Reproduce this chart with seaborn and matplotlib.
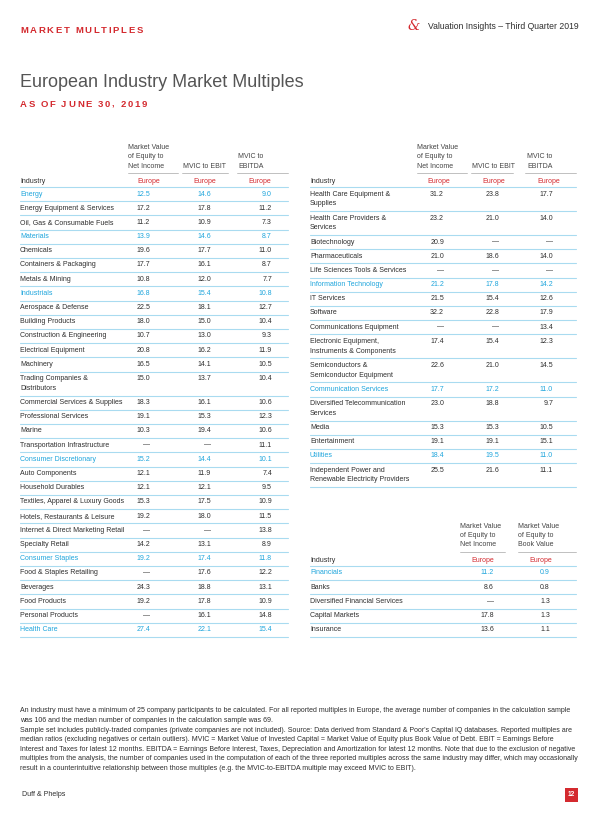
import matplotlib
matplotlib.use("Agg")
import matplotlib.pyplot as plt
import seaborn as sns

sns.set_theme(style="white")
plt.rcParams['font.family'] = ['Liberation Sans', 'DejaVu Sans']

# ---------------- data ----------------
left_industries = [
    "Energy", "Energy Equipment & Services", "Oil, Gas & Consumable Fuels",
    "Materials", "Chemicals", "Containers & Packaging", "Metals & Mining",
    "Industrials", "Aerospace & Defense", "Building Products",
    "Construction & Engineering", "Electrical Equipment", "Machinery",
    "Trading Companies &\nDistributors", "Commercial Services & Supplies",
    "Professional Services", "Marine", "Transportation Infrastructure",
    "Consumer Discretionary", "Auto Components", "Household Durables",
    "Textiles, Apparel & Luxury Goods", "Hotels, Restaurants & Leisure",
    "Internet & Direct Marketing Retail", "Specialty Retail",
    "Consumer Staples", "Food & Staples Retailing", "Beverages",
    "Food Products", "Personal Products", "Health Care",
]
left_ni = [12.5, 17.2, 11.2, 13.9, 19.6, 17.7, 10.8, 16.8, 22.5, 18.0, 10.7, 20.8,
           16.5, 15.0, 18.3, 19.1, 10.3, None, 15.2, 12.1, 12.1, 15.3, 19.2, None,
           14.2, 19.2, None, 24.3, 19.2, None, 27.4]
left_ebit = [14.6, 17.8, 10.9, 14.6, 17.7, 16.1, 12.0, 15.4, 18.1, 15.0, 13.0, 16.2,
             14.1, 13.7, 16.1, 15.3, 19.4, None, 14.4, 11.9, 12.1, 17.5, 18.0, None,
             13.1, 17.4, 17.6, 18.8, 17.8, 16.1, 22.1]
left_ebitda = [9.0, 11.2, 7.3, 8.7, 11.0, 8.7, 7.7, 10.8, 12.7, 10.4, 9.3, 11.9,
               10.5, 10.4, 10.6, 12.3, 10.6, 11.1, 10.1, 7.4, 9.5, 10.9, 11.5, 13.8,
               8.9, 11.8, 12.2, 13.1, 10.9, 14.8, 15.4]

right_industries = [
    "Health Care Equipment &\nSupplies", "Health Care Providers &\nServices",
    "Biotechnology", "Pharmaceuticals", "Life Sciences Tools & Services",
    "Information Technology", "IT Services", "Software",
    "Communications Equipment", "Electronic Equipment,\nInstruments & Components",
    "Semiconductors &\nSemiconductor Equipment", "Communication Services",
    "Diversified Telecommunication\nServices", "Media", "Entertainment",
    "Utilities", "Independent Power and\nRenewable Electricity Providers",
]
right_ni = [31.2, 23.2, 20.9, 21.0, None, 21.2, 21.5, 32.2, None, 17.4, 22.6,
            17.7, 23.0, 15.3, 19.1, 18.4, 25.5]
right_ebit = [23.8, 21.0, None, 18.6, None, 17.8, 15.4, 22.8, None, 15.4, 21.0,
              17.2, 18.8, 15.3, 19.1, 19.5, 21.6]
right_ebitda = [17.7, 14.0, None, 14.0, None, 14.2, 12.6, 17.9, 13.4, 12.3, 14.5,
                11.0, 9.7, 10.5, 15.1, 11.0, 11.1]

fin_industries = ["Financials", "Banks", "Diversified Financial Services",
                  "Capital Markets", "Insurance"]
fin_ni = [11.2, 8.6, None, 17.8, 13.6]
fin_bv = [0.9, 0.8, 1.3, 1.3, 1.1]

sectors = {"Energy", "Materials", "Industrials", "Consumer Discretionary",
           "Consumer Staples", "Health Care", "Information Technology",
           "Communication Services", "Utilities", "Financials"}

hdr3 = ["Market Value\nof Equity to\nNet Income", "MVIC to EBIT", "MVIC to\nEBITDA"]
hdr2 = ["Market Value\nof Equity to\nNet Income", "Market Value\nof Equity to\nBook Value"]

footnote_lines = [
    "An industry must have a minimum of 25 company participants to be calculated. For all reported multiples in Europe, the average number of companies in the calculation sample",
    "was 106 and the median number of companies in the calculation sample was 69.",
    "Sample set includes publicly-traded companies (private companies are not included). Source: Data derived from Standard & Poor's Capital IQ databases. Reported multiples are",
    "median ratios (excluding negatives or certain outliers). MVIC = Market Value of Invested Capital = Market Value of Equity plus Book Value of Debt. EBIT = Earnings Before",
    "Interest and Taxes for latest 12 months. EBITDA = Earnings Before Interest, Taxes, Depreciation and Amortization for latest 12 months. Note that due to the exclusion of negative",
    "multiples from the analysis, the number of companies used in the computation of each of the three reported multiples across the same industry may differ, which may occasionally",
    "result in a counterintuitive relationship between those multiples (e.g. the MVIC-to-EBITDA multiple may exceed MVIC to EBIT).",
]

# ---------------- style ----------------
RED = "#d42a2f"
BLUE = "#1ea5dc"
LINE_BLUE = "#a9dbf0"
GREY_LINE = "#b5b5b5"
TXT = "#2e2e2e"
HDR = "#444444"
FS = 5.0

fig = plt.figure(figsize=(6.0, 8.23), dpi=100)
ax = fig.add_axes([0, 0, 1, 1])
ax.set_xlim(0, 600)
ax.set_ylim(823, 0)
ax.axis("off")


def spaced(x, y, s, size, color, spacing, weight="bold"):
    renderer = fig.canvas.get_renderer()
    inv = ax.transData.inverted()
    for ch in s:
        t = ax.text(x, y, ch, fontsize=size, color=color, weight=weight,
                    va="center", ha="left")
        bb = t.get_window_extent(renderer=renderer)
        x0, _ = inv.transform((bb.x0, bb.y0))
        x1, _ = inv.transform((bb.x1, bb.y0))
        w = (x1 - x0) if ch != " " else size * 0.35
        x += w + spacing


def fmt(v):
    return "\u2014" if v is None else f"{v:.1f}"


def draw_table(xl, xr, top, labels, cols, centers, val_right, hdr_x, hdr_lines, headers):
    for hx, (a, b), h in zip(hdr_x, hdr_lines, headers):
        lines = h.split("\n")
        for k, ln in enumerate(reversed(lines)):
            ax.text(hx, top - 21 - k * 9.3, ln, fontsize=FS, color=HDR,
                    ha="left", va="center")
        ax.plot([a, b], [top - 14, top - 14], color=GREY_LINE, lw=0.6)
    ax.text(xl, top - 6, "Industry", fontsize=FS, color=TXT, ha="left", va="center")
    for c in centers:
        ax.text(c, top - 6, "Europe", fontsize=FS, color=RED, ha="center", va="center")
    ax.plot([xl, xr], [top, top], color=LINE_BLUE, lw=0.8)
    y = top
    for i, lab in enumerate(labels):
        color = BLUE if lab in sectors else TXT
        parts = lab.split("\n")
        h = 14.2 if len(parts) == 1 else 24.0
        for k, p in enumerate(parts):
            ax.text(xl, y + 7 + k * 9.8, p, fontsize=FS, color=color,
                    ha="left", va="center")
        for xrv, vals in zip(val_right, cols):
            ax.text(xrv, y + 7, fmt(vals[i]), fontsize=FS, color=color,
                    ha="right", va="center")
        y += h
        ax.plot([xl, xr], [y, y], color=LINE_BLUE, lw=0.8)


draw_table(20, 288, 187, left_industries, [left_ni, left_ebit, left_ebitda],
           [148.5, 204.5, 260.0], [150, 211, 272], [128, 183, 238],
           [(128, 178), (182, 228), (237, 288)], hdr3)
draw_table(310, 576, 187, right_industries, [right_ni, right_ebit, right_ebitda],
           [439, 494, 549], [444, 499, 553], [417, 472, 527],
           [(417, 467), (471, 513), (525, 576)], hdr3)
draw_table(310, 576, 566, fin_industries, [fin_ni, fin_bv],
           [483, 541], [494, 550], [460, 518], [(460, 505), (518, 576)], hdr2)

# ---------------- page furniture ----------------
spaced(20, 30, "MARKET MULTIPLES", 6.8, RED, 1.7)
spaced(20, 104, "AS OF JUNE 30, 2019", 6.8, RED, 1.7)
ax.text(20, 82, "European Industry Market Multiples", fontsize=13, color="#555555",
        ha="left", va="center")
ax.text(414, 26, "&", fontsize=10, color=RED, style="italic", family="DejaVu Serif",
        ha="center", va="center")
ax.text(428, 26, "Valuation Insights \u2013 Third Quarter 2019", fontsize=6.2, color=TXT,
        ha="left", va="center")
for k, ln in enumerate(footnote_lines):
    ax.text(20, 711 + k * 9.6, ln, fontsize=5.0, color=TXT, ha="left", va="center")
ax.text(22, 795, "Duff & Phelps", fontsize=5.0, color=TXT, ha="left", va="center")
ax.add_patch(plt.Rectangle((565, 788), 13, 14, color=RED, lw=0))
ax.text(571.5, 795, "12", fontsize=4.8, color="white", weight="bold", ha="center", va="center")

fig.savefig("out.png", dpi=100, facecolor="white")
